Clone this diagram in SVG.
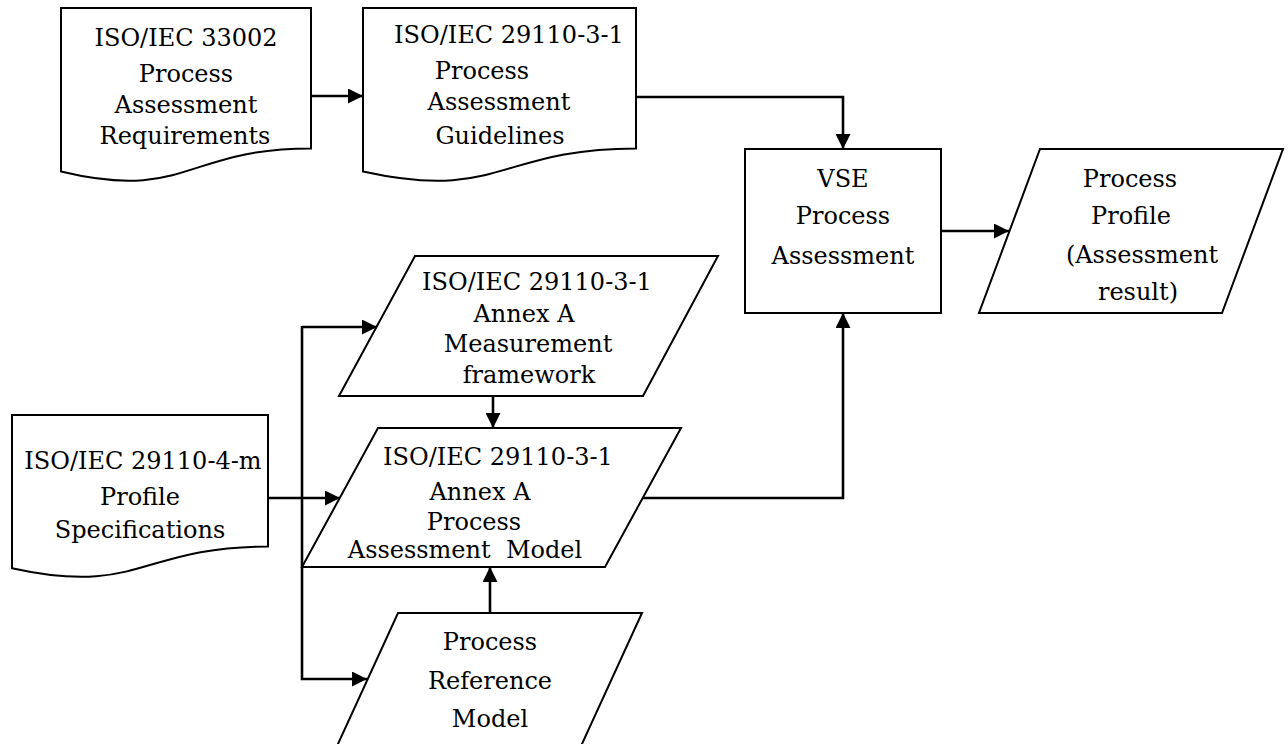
<svg xmlns="http://www.w3.org/2000/svg" width="1288" height="744" viewBox="0 0 1288 744">
<style>
.shape{fill:#fff;stroke:#000;stroke-width:2}
.conn{fill:none;stroke:#000;stroke-width:2.6}
text{font-family:"DejaVu Serif","Liberation Serif",serif;font-size:24px;fill:#000;text-anchor:middle}
</style>
<defs>
<marker id="arr" markerUnits="userSpaceOnUse" markerWidth="16" markerHeight="15" refX="15" refY="7.5" orient="auto">
<path d="M0,0 L15,7.5 L0,15 Z" fill="#000"/>
</marker>
</defs>
<rect width="1288" height="744" fill="#fff"/>

<g id="doc-33002">
<path class="shape" d="M61,8 H311 V148.4 C186,148.4 186,201.7 61,171.5 Z"/>
<text x="186" y="46">ISO/IEC 33002</text>
<text x="186" y="82">Process</text>
<text x="186" y="113">Assessment</text>
<text x="185" y="144">Requirements</text>
</g>

<g id="doc-29110-3-1">
<path class="shape" d="M363,8 H636 V148.4 C499.5,148.4 499.5,201.7 363,171.5 Z"/>
<text x="509" y="43">ISO/IEC 29110-3-1</text>
<text x="482" y="79">Process</text>
<text x="499" y="110">Assessment</text>
<text x="500" y="144">Guidelines</text>
</g>

<g id="vse">
<rect class="shape" x="745" y="149" width="196" height="164"/>
<text x="843" y="187">VSE</text>
<text x="843" y="224">Process</text>
<text x="843" y="264">Assessment</text>
</g>

<g id="profile">
<polygon class="shape" points="1040,149 1283,149 1222,313 979,313"/>
<text x="1130" y="187">Process</text>
<text x="1131" y="224">Profile</text>
<text x="1142" y="263">(Assessment</text>
<text x="1138" y="300">result)</text>
</g>

<g id="measurement">
<polygon class="shape" points="415,256 718,256 643,396 339,396"/>
<text x="537" y="290">ISO/IEC 29110-3-1</text>
<text x="524" y="322">Annex A</text>
<text x="528" y="352">Measurement</text>
<text x="529" y="383">framework</text>
</g>

<g id="pam">
<polygon class="shape" points="378,428 681,428 605,567 302,567"/>
<text x="498" y="465">ISO/IEC 29110-3-1</text>
<text x="480" y="500">Annex A</text>
<text x="474" y="530">Process</text>
<text x="465" y="558" xml:space="preserve">Assessment  Model</text>
</g>

<g id="doc-29110-4-m">
<path class="shape" d="M12,415 H268 V546.5 C140,546.5 140,596.5 12,568.2 Z"/>
<text x="143" y="469">ISO/IEC 29110-4-m</text>
<text x="140" y="505">Profile</text>
<text x="140" y="538">Specifications</text>
</g>

<g id="prm">
<polygon class="shape" points="398,613 642,613 576,757 332,757"/>
<text x="490" y="650">Process</text>
<text x="490" y="689">Reference</text>
<text x="490" y="727">Model</text>
</g>

<g id="connectors">
<path class="conn" d="M311,96 H363" marker-end="url(#arr)"/>
<path class="conn" d="M636,97 H843 V149" marker-end="url(#arr)"/>
<path class="conn" d="M941,231 H1009" marker-end="url(#arr)"/>
<path class="conn" d="M643,498 H843 V313" marker-end="url(#arr)"/>
<path class="conn" d="M493,396 V428" marker-end="url(#arr)"/>
<path class="conn" d="M490,613 V567" marker-end="url(#arr)"/>
<path class="conn" d="M268,498 H340" marker-end="url(#arr)"/>
<path class="conn" d="M302,327 H377" marker-end="url(#arr)"/>
<path class="conn" d="M302,326 V679 H367" marker-end="url(#arr)"/>
</g>
</svg>
